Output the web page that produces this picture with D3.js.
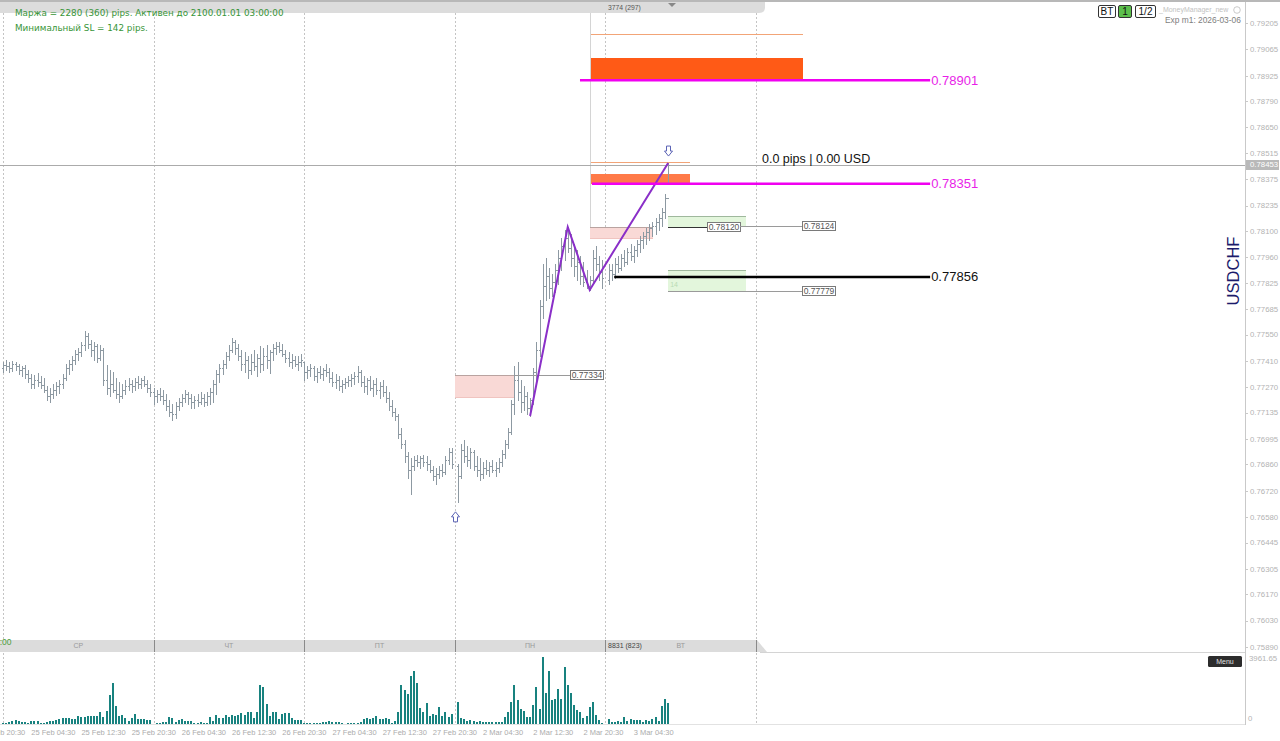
<!DOCTYPE html>
<html><head><meta charset="utf-8">
<script src="https://cdn.jsdelivr.net/npm/d3@7"></script>
<style>body{margin:0;background:#fff;overflow:hidden}svg{display:block}</style>
</head><body><svg id="c" width="1280" height="741"></svg>
<script>
// ---------- DATA (prices in points, 1 point = 0.00001) ----------
const wedO=[77372,77388,77383,77372,77394,77383,77362,77372,77341,77319,77287,77309,77298,77282,77256,77224,77234,77256,77277,77287,77319,77372,77394,77415,77447,77457,77495,77542,77500,77468,77489,77426,77468,77309,77266,77287,77256,77234,77224,77256,77277,77287,77277,77298,77287,77309,77287,77266];
const wedH=[77404,77415,77404,77410,77404,77394,77383,77388,77362,77341,77335,77346,77330,77319,77277,77266,77287,77298,77309,77341,77394,77415,77436,77468,77479,77510,77569,77558,77521,77510,77500,77495,77479,77388,77362,77351,77319,77298,77287,77309,77319,77309,77319,77330,77319,77330,77309,77287];
const wedL=[77351,77362,77351,77357,77362,77341,77330,77319,77298,77266,77266,77277,77266,77245,77202,77192,77213,77229,77240,77266,77309,77341,77362,77394,77415,77436,77468,77479,77436,77415,77404,77415,77282,77234,77224,77245,77213,77192,77213,77234,77256,77245,77256,77266,77266,77277,77245,77224];
const wedC=[77388,77383,77372,77394,77383,77362,77372,77341,77319,77287,77309,77298,77282,77256,77224,77234,77256,77277,77287,77319,77372,77394,77415,77447,77457,77495,77542,77500,77468,77489,77426,77468,77309,77266,77287,77256,77234,77224,77256,77277,77287,77277,77298,77287,77309,77287,77266,77245];
const thuO=[77245,77224,77234,77224,77202,77171,77139,77128,77171,77192,77213,77234,77213,77192,77202,77192,77213,77192,77224,77245,77287,77341,77372,77394,77436,77468,77510,77479,77436,77394,77415,77362,77404,77383,77426,77394,77436,77415,77457,77479,77489,77468,77447,77426,77404,77415,77394,77404];
const thuH=[77266,77256,77266,77256,77234,77202,77181,77192,77213,77234,77256,77245,77234,77224,77234,77245,77234,77245,77266,77309,77362,77394,77415,77457,77495,77532,77521,77500,77468,77457,77436,77447,77468,77447,77489,77479,77495,77468,77500,77510,77510,77500,77468,77457,77447,77436,77436,77447];
const thuL=[77181,77192,77202,77181,77149,77117,77096,77107,77149,77171,77192,77181,77160,77160,77171,77181,77171,77176,77181,77192,77234,77298,77341,77372,77415,77457,77447,77415,77362,77351,77319,77341,77362,77330,77351,77362,77372,77346,77415,77447,77457,77436,77404,77383,77372,77383,77362,77383];
const thuC=[77224,77234,77224,77202,77171,77139,77128,77171,77192,77213,77234,77213,77192,77202,77192,77213,77192,77224,77245,77287,77341,77372,77394,77436,77468,77510,77479,77436,77394,77415,77362,77404,77383,77426,77394,77436,77415,77457,77479,77489,77468,77447,77426,77404,77415,77394,77404,77415];
const friO=[77404,77351,77362,77372,77330,77351,77341,77362,77351,77319,77298,77309,77277,77287,77298,77309,77319,77330,77351,77298,77277,77309,77266,77287,77256,77277,77245,77213,77171,77139,77117,77022,76969,76905,76831,76852,76884,76873,76894,76873,76863,76831,76799,76809,76831,76820,76884,76926];
const friH=[77404,77383,77394,77383,77372,77383,77372,77394,77372,77351,77341,77330,77309,77319,77330,77341,77351,77383,77362,77330,77319,77330,77309,77319,77298,77309,77277,77245,77202,77160,77128,77054,76990,76926,76894,76905,76910,76905,76910,76905,76884,76852,76841,76852,76863,76905,76947,76947];
const friL=[77309,77319,77330,77309,77298,77319,77309,77330,77298,77277,77266,77256,77245,77266,77277,77277,77287,77298,77277,77245,77234,77256,77224,77234,77213,77224,77192,77149,77117,77096,77000,76947,76873,76788,76703,76831,76852,76841,76852,76831,76820,76777,76756,76788,76799,76809,76863,76841];
const friC=[77351,77362,77372,77330,77351,77341,77362,77351,77319,77298,77309,77277,77287,77298,77309,77319,77330,77351,77298,77277,77309,77266,77287,77256,77277,77245,77213,77171,77139,77117,77022,76969,76905,76831,76852,76884,76873,76894,76873,76863,76831,76799,76809,76831,76820,76884,76926,76863];
const monO=[76852,76799,76937,76905,76884,76926,76852,76831,76809,76841,76831,76852,76831,76841,76873,76916,76969,77032,77181,77309,77245,77192,77224,77160,77202,77351,77468,77702,77808,77861,77797,77829,77893,77957,78020,78063,78010,77957,77914,77936,77861,77829,77808,77840,77957,77925,77883];
const monH=[76863,76969,76990,76958,76947,76937,76905,76894,76873,76884,76873,76884,76873,76894,76937,76990,77054,77202,77383,77404,77309,77277,77245,77213,77372,77510,77734,77925,77957,77904,77872,77925,77999,78063,78105,78121,78084,78031,77999,77968,77936,77893,77861,77999,78020,77968,77946];
const monL=[76661,76788,76873,76852,76841,76831,76799,76777,76788,76809,76799,76820,76799,76820,76852,76894,76947,77022,77128,77202,77139,77149,77128,77117,77181,77309,77436,77638,77734,77744,77755,77776,77819,77893,77946,77989,77914,77861,77840,77819,77808,77797,77787,77819,77893,77840,77797];
const monC=[76799,76937,76905,76884,76926,76852,76831,76809,76841,76831,76852,76831,76841,76873,76916,76969,77032,77181,77309,77245,77192,77224,77160,77202,77351,77468,77702,77808,77861,77797,77829,77893,77957,78020,78063,78010,77957,77914,77936,77861,77829,77808,77840,77957,77925,77883,77851];
const tueO=[77840,77893,77872,77925,77904,77957,77936,77989,77968,77999,78031,78052,78073,78095,78116,78126,78148,78169,78201,78275];
const tueH=[77925,77925,77957,77968,77978,77999,78010,78031,78020,78052,78073,78095,78116,78137,78148,78169,78190,78222,78296,78461];
const tueL=[77819,77840,77851,77883,77893,77914,77925,77946,77936,77968,77989,78010,78031,78052,78073,78084,78105,78126,78169,78360];
const tueC=[77893,77872,77925,77904,77957,77936,77989,77968,77999,78031,78052,78073,78095,78116,78126,78148,78169,78201,78275,78453];

const wedV=[30,40,140,180,240,200,100,140,80,180,160,160,60,60,120,160,160,240,310,350,370,350,280,310,490,430,430,450,470,470,470,710,430,770,1710,2400,1060,470,510,340,200,350,610,310,310,300,240,240];
const thuV=[20,30,80,120,120,400,370,140,240,300,180,180,180,60,60,120,80,60,430,200,530,350,350,530,430,530,450,530,650,510,690,710,370,710,2300,2160,1180,470,710,710,300,570,630,630,350,220,220,220];
const friV=[30,30,40,50,60,60,100,120,200,140,120,120,60,20,40,30,30,60,120,310,340,310,340,470,300,300,370,280,30,200,710,2300,2000,1770,2830,3130,2400,930,730,1220,470,570,530,990,470,710,400,590];
const monV=[1320,340,300,200,240,180,120,180,140,120,120,140,100,120,140,430,730,1320,2300,1420,870,770,430,430,1120,2170,900,3962,1850,3150,1420,1460,2050,1460,3350,2300,1810,1120,830,730,340,470,990,1320,530,240,80];
const tueV=[300,100,140,200,120,400,200,280,240,240,240,100,240,200,310,430,200,1060,1480,1220];

// sessions: first half-hour slot of each session (slot 0 = 25 Feb 00:00)
const sessionFirstSlot=[0,48,96,145,193];
const dayStartSlots=[0,48,96,144,192,240];
const dayNames=["СР","ЧТ","ПТ","ПН","ВТ"];
const timeLabels=["24 Feb 20:30","25 Feb 04:30","25 Feb 12:30","25 Feb 20:30","26 Feb 04:30","26 Feb 12:30","26 Feb 20:30","27 Feb 04:30","27 Feb 12:30","27 Feb 20:30","2 Mar 04:30","2 Mar 12:30","2 Mar 20:30","3 Mar 04:30"];
const timeLabelSlots=[-7,9,25,41,57,73,89,105,121,137,153,169,185,201];
const priceTicks=["0.79205","0.79065","0.78925","0.78790","0.78650","0.78515","0.78375","0.78235","0.78100","0.77960","0.77825","0.77685","0.77550","0.77410","0.77270","0.77135","0.76995","0.76860","0.76720","0.76580","0.76445","0.76305","0.76170","0.76030","0.75890"];
const volumeMax=3961.65;
const currentPrice=0.78453;

// zigzag
const zigzagSlots=[168,180,187,212];
const zigzagPrices=[0.77117,0.78121,0.77787,0.78461];
// supply zones (orange)
const supplyTop=[0.79020,0.78403], supplyBottom=[0.78901,0.78351], supplyEdge=[0.79147,0.78467];
const supplyFrom=[187.1,187.1], supplyTo=[255,219];
// magenta levels
const magentaLevels=[0.78901,0.78351], magentaFrom=[183.9,187.7];
const blackLevel=0.77856, blackFrom=194.8, levelsTo=295.5;
// pink zones
const pinkTop=[0.77334,0.78121], pinkBottom=[0.77218,0.78063], pinkFrom=[144,187.1], pinkTo=[163.2,207.2];
// green zones
const greenTop=[0.78180,0.77893], greenBottom=[0.78121,0.77776], greenFrom=[212,212], greenTo=[236.8,236.8];
// price tags
const tagPrices=[0.77334,0.78120,0.78124,0.77779];
const tagFrom=[163.2,212,235,212], tagAt=[180.7,224.5,254.7,254.7];

// ---------- SCALES ----------
const svg=d3.select("#c");
const x=d3.scaleLinear().domain([0,240]).range([3,756]);
const y=d3.scaleLinear().domain([0.75890,0.79205]).range([647,23]);
const yv=d3.scaleLinear().domain([0,volumeMax]).range([724,657]);
const px=t=>Math.round(x(t))+0.5;
const py=p=>Math.round(y(p))+0.5;
const AX=1245;

const O=[wedO,thuO,friO,monO,tueO],Hh=[wedH,thuH,friH,monH,tueH],L=[wedL,thuL,friL,monL,tueL],C=[wedC,thuC,friC,monC,tueC],V=[wedV,thuV,friV,monV,tueV];
const bars=[];
sessionFirstSlot.forEach((s,k)=>{O[k].forEach((o,j)=>{bars.push({t:s+j,o:o/1e5,h:Hh[k][j]/1e5,l:L[k][j]/1e5,c:C[k][j]/1e5,v:V[k][j]});});});

svg.append("rect").attr("width",1280).attr("height",741).attr("fill","#fff");
const defs=svg.append("defs");
defs.append("clipPath").attr("id","main").append("rect").attr("x",0).attr("y",13).attr("width",AX).attr("height",627);

// gridlines
const grid=svg.append("g").attr("shape-rendering","crispEdges");
dayStartSlots.forEach(s=>{
  grid.append("line").attr("x1",px(s)).attr("x2",px(s)).attr("y1",13).attr("y2",640).attr("stroke","#c4c4c4").attr("stroke-dasharray","2,2");
  grid.append("line").attr("x1",px(s)).attr("x2",px(s)).attr("y1",653).attr("y2",724).attr("stroke","#c4c4c4").attr("stroke-dasharray","2,2");
});

const g=svg.append("g").attr("clip-path","url(#main)");

// zones
const z=g.append("g").attr("shape-rendering","crispEdges");
supplyTop.forEach((t,i)=>{
  z.append("line").attr("x1",x(supplyFrom[i])).attr("x2",x(supplyTo[i])).attr("y1",py(supplyEdge[i])).attr("y2",py(supplyEdge[i])).attr("stroke","#f2a477").attr("stroke-width",1.5);
  z.append("rect").attr("x",x(supplyFrom[i])).attr("width",x(supplyTo[i])-x(supplyFrom[i])).attr("y",y(t)).attr("height",y(supplyBottom[i])-y(t)).attr("fill",i===0?"#ff5a16":"#ff7a48");
});
pinkTop.forEach((t,i)=>{
  z.append("rect").attr("x",x(pinkFrom[i])).attr("width",x(pinkTo[i])-x(pinkFrom[i])).attr("y",y(t)).attr("height",y(pinkBottom[i])-y(t)).attr("fill","#f9d9d6");
  z.append("line").attr("x1",x(pinkFrom[i])).attr("x2",x(pinkTo[i])).attr("y1",py(t)).attr("y2",py(t)).attr("stroke","#b9a3a0");
  z.append("line").attr("x1",x(pinkFrom[i])).attr("x2",x(pinkTo[i])).attr("y1",py(pinkBottom[i])).attr("y2",py(pinkBottom[i])).attr("stroke","#f0c4c0");
});
greenTop.forEach((t,i)=>{
  z.append("rect").attr("x",x(greenFrom[i])).attr("width",x(greenTo[i])-x(greenFrom[i])).attr("y",y(t)).attr("height",y(greenBottom[i])-y(t)).attr("fill","#e3f6dc");
  z.append("line").attr("x1",x(greenFrom[i])).attr("x2",x(greenTo[i])).attr("y1",py(t)).attr("y2",py(t)).attr("stroke","#9fb89d");
});
z.append("text").attr("x",x(greenFrom[1])+2).attr("y",y(greenBottom[1])-5).attr("font-family","Liberation Sans").attr("font-size",7).attr("fill","#b9dcb4").text("14");

// vertical marker at zigzag low
g.append("line").attr("x1",px(zigzagSlots[2])).attr("x2",px(zigzagSlots[2])).attr("y1",13).attr("y2",y(pinkTop[1])).attr("stroke","#d4d4d4").attr("shape-rendering","crispEdges");

// current price line
g.append("line").attr("x1",0).attr("x2",AX).attr("y1",py(currentPrice)).attr("y2",py(currentPrice)).attr("stroke","#ababab").attr("shape-rendering","crispEdges");

// OHLC bars
const bg=g.append("g").attr("stroke","#8d99a2").attr("shape-rendering","crispEdges");
bars.forEach(d=>{
  const xx=px(d.t);
  bg.append("line").attr("x1",xx).attr("x2",xx).attr("y1",Math.round(y(d.h))).attr("y2",Math.round(y(d.l))+1);
  bg.append("line").attr("x1",xx-1.5).attr("x2",xx).attr("y1",py(d.o)).attr("y2",py(d.o));
  bg.append("line").attr("x1",xx).attr("x2",xx+1.5).attr("y1",py(d.c)).attr("y2",py(d.c));
});

// price tags
tagPrices.forEach((p,i)=>{
  const dark=(i===1);
  g.append("line").attr("x1",x(tagFrom[i])).attr("x2",x(tagAt[i])).attr("y1",py(p)).attr("y2",py(p)).attr("stroke",dark?"#333":"#9a9a9a").attr("stroke-width",dark?1.5:1).attr("shape-rendering","crispEdges");
  const bx=Math.round(x(tagAt[i]))+0.5, by=Math.round(y(p))-4.5;
  g.append("rect").attr("x",bx).attr("y",by).attr("width",33).attr("height",9).attr("fill","#fff").attr("stroke","#7a7a7a");
  g.append("text").attr("x",bx+16.5).attr("y",by+7.5).attr("text-anchor","middle").attr("font-family","Liberation Sans").attr("font-size",8.5).attr("fill","#555").text(p.toFixed(5));
});

// zigzag
g.append("path").attr("d",d3.line()(zigzagSlots.map((s,i)=>[x(s),y(zigzagPrices[i])]))).attr("fill","none").attr("stroke","#8a2fc8").attr("stroke-width",2).attr("stroke-linejoin","miter");

// magenta & black levels
magentaLevels.forEach((p,i)=>{
  g.append("line").attr("x1",x(magentaFrom[i])).attr("x2",x(levelsTo)).attr("y1",y(p)).attr("y2",y(p)).attr("stroke","#f000f0").attr("stroke-width",2.6);
  g.append("text").attr("x",x(levelsTo)+1).attr("y",y(p)+4.5).attr("font-family","Liberation Sans").attr("font-size",13).attr("fill","#e81ee8").text(p.toFixed(5));
});
g.append("line").attr("x1",x(blackFrom)).attr("x2",x(levelsTo)).attr("y1",y(blackLevel)).attr("y2",y(blackLevel)).attr("stroke","#000").attr("stroke-width",2.6);
g.append("text").attr("x",x(levelsTo)+1).attr("y",y(blackLevel)+4.5).attr("font-family","Liberation Sans").attr("font-size",13).attr("fill","#111").text(blackLevel.toFixed(5));

// pips text
g.append("text").attr("x",762).attr("y",y(currentPrice)-2).attr("font-family","Liberation Sans").attr("font-size",12.5).attr("fill","#111").text("0.0 pips | 0.00 USD");

// arrows
function arrow(cx,top,down){
  const pts=down?[[cx,top+10],[cx+4,top+5],[cx+2,top+5],[cx+2,top],[cx-2,top],[cx-2,top+5],[cx-4,top+5]]
                :[[cx,top],[cx+4,top+5],[cx+2,top+5],[cx+2,top+10],[cx-2,top+10],[cx-2,top+5],[cx-4,top+5]];
  g.append("path").attr("d","M"+pts.map(p=>p.join(",")).join("L")+"Z").attr("fill","#fff").attr("stroke","#5b63b5").attr("stroke-width",1);
}
const lowBar=bars.reduce((a,b)=>b.l<a.l?b:a);
const highBar=bars.reduce((a,b)=>b.h>a.h?b:a);
arrow(px(lowBar.t)-3,y(lowBar.l)+10,false);
arrow(px(highBar.t),y(highBar.h)-17,true);

// volume bars
svg.append("g").attr("shape-rendering","crispEdges").selectAll("rect").data(bars).join("rect")
  .attr("x",d=>Math.round(x(d.t))-1).attr("width",2).attr("y",d=>yv(d.v)).attr("height",d=>yv(0)-yv(d.v)).attr("fill","#18827f");

// pane lines & axis
const ax=svg.append("g").attr("shape-rendering","crispEdges");
ax.append("line").attr("x1",0).attr("x2",AX).attr("y1",724.5).attr("y2",724.5).attr("stroke","#e2e2e2");
ax.append("line").attr("x1",760).attr("x2",AX).attr("y1",652.5).attr("y2",652.5).attr("stroke","#d4d4d4");
ax.append("line").attr("x1",AX+0.5).attr("x2",AX+0.5).attr("y1",0).attr("y2",725).attr("stroke","#c9c9c9");
priceTicks.forEach(t=>{
  const yy=y(+t);
  ax.append("line").attr("x1",AX).attr("x2",AX+3).attr("y1",Math.round(yy)+0.5).attr("y2",Math.round(yy)+0.5).attr("stroke","#c9c9c9");
  svg.append("text").attr("x",AX+5).attr("y",yy+2.8).attr("font-family","Liberation Sans").attr("font-size",7.8).attr("fill","#b3b3b3").text(t);
});
svg.append("rect").attr("x",AX+1).attr("y",Math.round(y(currentPrice))-5).attr("width",33).attr("height",10).attr("fill","#b9b9b9");
svg.append("text").attr("x",AX+5).attr("y",y(currentPrice)+2.8).attr("font-family","Liberation Sans").attr("font-size",7.8).attr("fill","#fff").text(currentPrice.toFixed(5));
svg.append("text").attr("x",AX+4).attr("y",yv(volumeMax)+4).attr("font-family","Liberation Sans").attr("font-size",7.8).attr("fill","#b3b3b3").text(volumeMax.toFixed(2));
svg.append("text").attr("x",AX+3).attr("y",yv(0)-3).attr("font-family","Liberation Sans").attr("font-size",7.8).attr("fill","#b3b3b3").text("0");

// USDCHF
svg.append("text").attr("transform","translate(1239,271) rotate(-90)").attr("text-anchor","middle").attr("font-family","Liberation Sans").attr("font-size",16.5).attr("fill","#1b1b6b").text("USDCHF");

// top band
svg.append("path").attr("d","M0,0H765V7Q765,13 759,13H0Z").attr("fill","#dcdcdc");
svg.append("rect").attr("x",0).attr("y",0).attr("width",1280).attr("height",2).attr("fill","#b8b8b8");
svg.append("text").attr("x",608).attr("y",10).attr("font-family","Liberation Sans").attr("font-size",6.8).attr("fill","#555").text("3774 (297)");
svg.append("path").attr("d","M668,3H676L672,7Z").attr("fill","#888");

// info text
svg.append("text").attr("x",15).attr("y",15.5).attr("font-family","DejaVu Sans").attr("font-size",8.8).attr("fill","#389538").text("Маржа = 2280 (360) pips. Активен до 2100.01.01 03:00:00");
svg.append("text").attr("x",15).attr("y",30.5).attr("font-family","DejaVu Sans").attr("font-size",8.8).attr("fill","#389538").text("Минимальный SL = 142 pips.");

// top-right widgets
const bw=[["BT",1098,17,"#fff"],["1",1118,13,"#5cbf4c"],["1/2",1135,20,"#fff"]];
bw.forEach(b=>{
  svg.append("rect").attr("x",b[1]+0.5).attr("y",5.5).attr("width",b[2]).attr("height",12).attr("rx",1.5).attr("fill",b[3]).attr("stroke","#333");
  svg.append("text").attr("x",b[1]+0.5+b[2]/2).attr("y",15).attr("text-anchor","middle").attr("font-family","Liberation Sans").attr("font-size",10).attr("fill","#111").text(b[0]);
});
svg.append("text").attr("x",1159).attr("y",12).attr("font-family","Liberation Sans").attr("font-size",7).attr("fill","#c2c2c2").text("_MoneyManager_new");
svg.append("circle").attr("cx",1237).attr("cy",10).attr("r",3.3).attr("fill","none").attr("stroke","#bdbdbd").attr("stroke-width",0.8);
svg.append("text").attr("x",1165).attr("y",23).attr("font-family","Liberation Sans").attr("font-size",8.4).attr("fill","#7e7e7e").text("Exp m1: 2026-03-06");

// bottom band (day tabs)
svg.append("path").attr("d","M0,640H757L767,652H0Z").attr("fill","#dcdcdc");
dayStartSlots.forEach((s,i)=>{
  if(i>0) svg.append("line").attr("x1",px(s)).attr("x2",px(s)).attr("y1",640).attr("y2",652).attr("stroke","#8a8a8a").attr("shape-rendering","crispEdges");
  if(i<dayNames.length) svg.append("text").attr("x",(x(s)+x(dayStartSlots[i+1]))/2).attr("y",647.5).attr("text-anchor","middle").attr("font-family","Liberation Sans").attr("font-size",7).attr("fill","#9a9a9a").text(dayNames[i]);
});
svg.append("text").attr("x",608).attr("y",648).attr("font-family","Liberation Sans").attr("font-size",7).attr("fill","#444").text("8831 (823)");
svg.append("text").attr("x",-5).attr("y",645).attr("font-family","Liberation Sans").attr("font-size",8.5).attr("fill","#4a9d3c").text("0:00");

// time labels
timeLabels.forEach((t,i)=>{
  svg.append("text").attr("x",x(timeLabelSlots[i])).attr("y",735).attr("font-family","Liberation Sans").attr("font-size",7.5).attr("fill","#acacac").text(t);
});

// menu button
svg.append("rect").attr("x",1208).attr("y",656).attr("width",34).attr("height",11).attr("rx",1.5).attr("fill","#2c2c2c");
svg.append("text").attr("x",1225).attr("y",664).attr("text-anchor","middle").attr("font-family","Liberation Sans").attr("font-size",7).attr("fill","#e0e0e0").text("Menu");
</script></body></html>
